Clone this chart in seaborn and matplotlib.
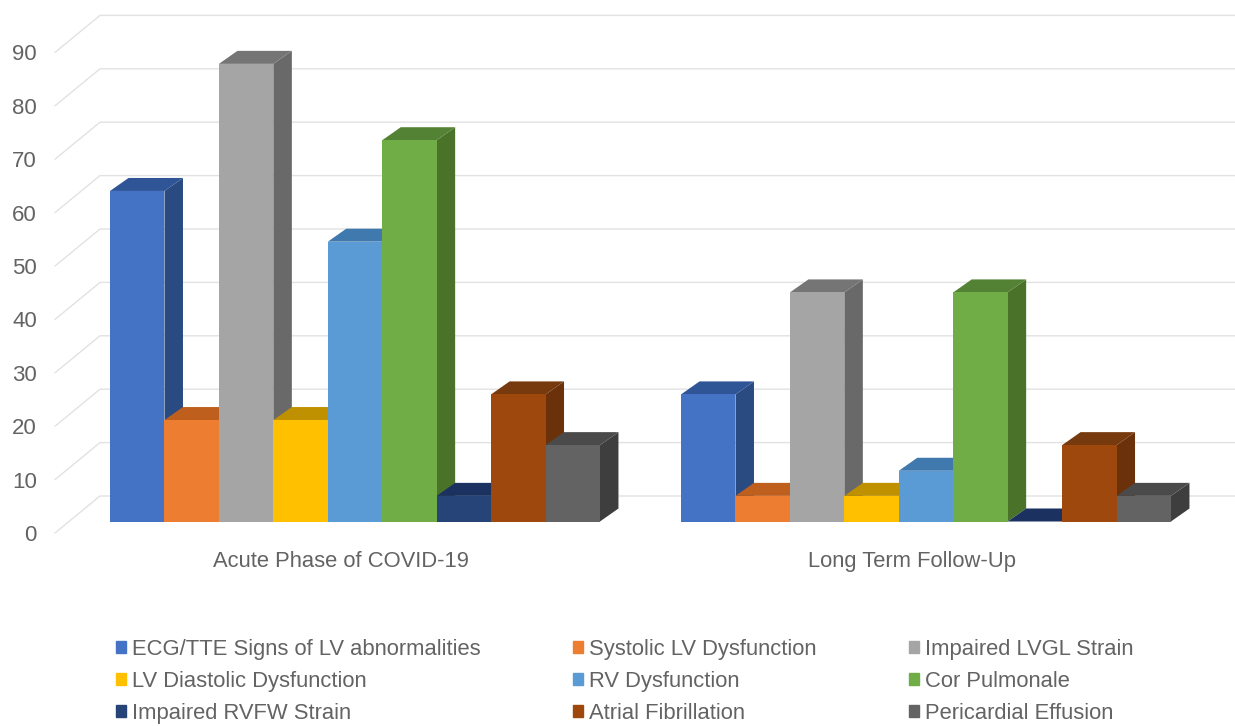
import pandas as pd
import seaborn as sns
import matplotlib.pyplot as plt
from matplotlib.patches import Patch, Polygon
from matplotlib.transforms import ScaledTranslation

phases = ['Acute Phase of COVID-19', 'Long Term Follow-Up']
series = ['ECG/TTE Signs of LV abnormalities', 'Systolic LV Dysfunction', 'Impaired LVGL Strain',
          'LV Diastolic Dysfunction', 'RV Dysfunction', 'Cor Pulmonale',
          'Impaired RVFW Strain', 'Atrial Fibrillation', 'Pericardial Effusion']
acute = [61.9, 19.0, 85.7, 19.0, 52.4, 71.4, 4.8, 23.8, 14.3]
follow_up = [23.8, 4.8, 42.9, 4.8, 9.5, 42.9, 0.0, 14.3, 4.8]
y_ticks = [0, 10, 20, 30, 40, 50, 60, 70, 80, 90]

front_colors = ['#4472C4', '#ED7D31', '#A5A5A5', '#FFC000', '#5B9BD5', '#70AD47', '#264478', '#9E480E', '#636363']
top_colors = ['#2F5597', '#BE5F1E', '#757575', '#BF9000', '#3F79AE', '#548235', '#1B3160', '#773A0E', '#4A4A4A']
side_colors = ['#2A4A82', '#A34F18', '#696969', '#A67D00', '#37699A', '#4A7329', '#182B52', '#6B310A', '#3E3E3E']
text_color = '#636363'

df = pd.DataFrame({
    'phase': [phases[0]] * len(series) + [phases[1]] * len(series),
    'serie': series * 2,
    'value': acute + follow_up,
})

W, H = 1235, 726
px_per_unit = 5.34      # pixels per y unit
px_per_cat = 571.0      # pixels between the two groups
base_px = 521.5         # y pixel of value 0
depth_x, depth_y = 18.5 / px_per_cat, 13.0 / px_per_unit

sns.set_theme(style='white')
plt.rcParams['font.family'] = ['Liberation Sans', 'DejaVu Sans']

fig = plt.figure(figsize=(W / 100, H / 100), dpi=100)
ax = fig.add_axes([55 / W, (H - base_px) / H, (W - 55) / W, 95 * px_per_unit / H])

sns.barplot(data=df, x='phase', y='value', hue='serie', hue_order=series, order=phases,
            palette=front_colors, saturation=1, width=0.858, gap=0, legend=False,
            linewidth=0, ax=ax)

ax.set_xlim((55 - 355) / px_per_cat, (W - 355) / px_per_cat)
ax.set_ylim(0, 95)
ax.set_xlabel('')
ax.set_ylabel('')
sns.despine(ax=ax, left=True, bottom=True)

# paredes del grafico: lineas de guia en perspectiva
x0, x1 = ax.get_xlim()
back_x = (100 - 355) / px_per_cat
for t in y_ticks:
    ax.plot([x0, back_x, x1], [t - 11.5 / px_per_unit, t + 25.5 / px_per_unit, t + 25.5 / px_per_unit],
            color='#E2E2E2', lw=1.0, clip_on=False, zorder=1, solid_joinstyle='round')

# cara superior y lateral de cada barra
for i, cont in enumerate(ax.containers):
    for bar in cont:
        xa, xb = bar.get_x(), bar.get_x() + bar.get_width()
        h = bar.get_height()
        top = Polygon([(xa, h), (xb, h), (xb + depth_x, h + depth_y), (xa + depth_x, h + depth_y)],
                      closed=True, fc=top_colors[i], ec='none', clip_on=False, zorder=3 + i * 2)
        side = Polygon([(xb, 0), (xb + depth_x, depth_y), (xb + depth_x, h + depth_y), (xb, h)],
                       closed=True, fc=side_colors[i], ec='none', clip_on=False, zorder=3 + i * 2)
        ax.add_patch(side)
        ax.add_patch(top)
        bar.set_zorder(4 + i * 2)
        bar.set_clip_on(False)

ax.set_yticks(y_ticks)
ax.tick_params(axis='y', length=0, pad=13, labelsize=16, labelcolor=text_color)
ax.tick_params(axis='x', length=0, pad=21, labelsize=15.8, labelcolor=text_color)
for lab in ax.get_yticklabels():
    lab.set_transform(lab.get_transform() + ScaledTranslation(0, -11.5 / 100, fig.dpi_scale_trans))
for lab in ax.get_xticklabels():
    lab.set_transform(lab.get_transform() + ScaledTranslation(-14.5 / 100, 0, fig.dpi_scale_trans))

# leyenda por filas, tres columnas
handles = [Patch(color=c, label=s) for c, s in zip(front_colors, series)]
order = [0, 3, 6, 1, 4, 7, 2, 5, 8]
fig.legend(handles=[handles[k] for k in order], ncol=3, loc='upper left',
           bbox_to_anchor=(116 / W, 1 - 639 / H), frameon=False, fontsize=15.8,
           labelcolor=text_color, handlelength=0.46, handleheight=0.46, handletextpad=0.28,
           columnspacing=4.2, labelspacing=0.5, borderpad=0, borderaxespad=0)

fig.savefig('out.png', dpi=100, facecolor='white')
